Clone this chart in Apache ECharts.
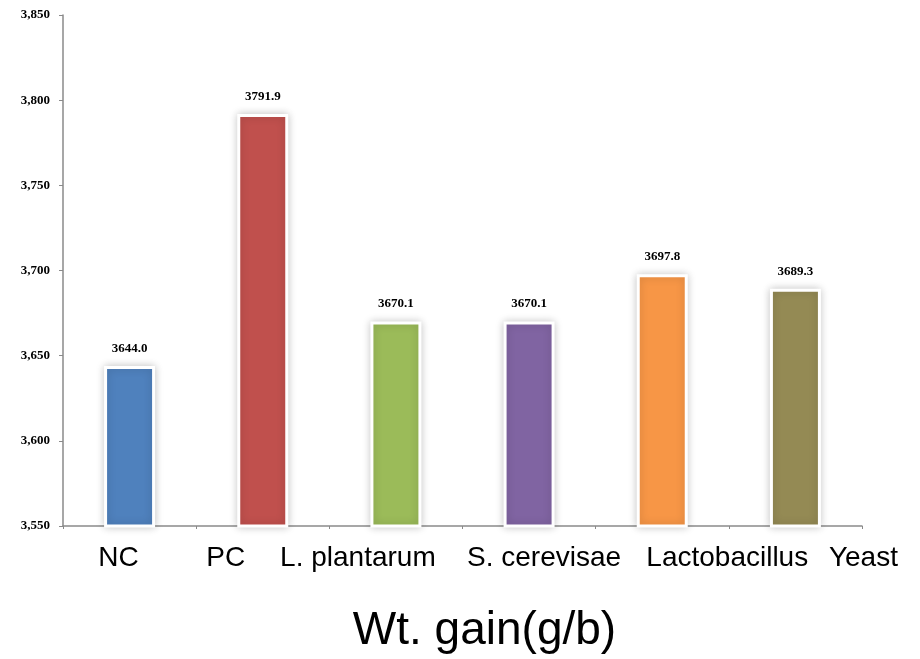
<!DOCTYPE html>
<html>
<head>
<meta charset="utf-8">
<script src="https://cdn.jsdelivr.net/npm/echarts@6/dist/echarts.min.js"></script>
<style>
  html, body { margin: 0; padding: 0; background: #fff; }
  #chart { width: 920px; height: 659px; }
</style>
</head>
<body>
<div id="chart"></div>
<script>
// Weight gain per treatment group
const categories = ['NC', 'PC', 'L. plantarum', 'S. cerevisae', 'Lactobacillus', 'Yeast'];
const weightGain = [3644.0, 3791.9, 3670.1, 3670.1, 3697.8, 3689.3];
const barColors = ['#4F81BD', '#C0504D', '#9BBB59', '#8064A2', '#F79646', '#948A54'];
const yTicks = [3550, 3600, 3650, 3700, 3750, 3800, 3850];
const axisTitle = 'Wt. gain(g/b)';

// horizontal nudge of each category label (px, + is right)
const labelShift = [-11, -37, -38, 15, 65, 68];

const rich = {};
labelShift.forEach((d, i) => {
  rich['c' + i] = {
    fontFamily: 'Liberation Sans, Arial, sans-serif',
    fontSize: 28,
    color: '#000',
    padding: d >= 0 ? [0, 0, 0, 2 * d] : [0, -2 * d, 0, 0]
  };
});

const chart = echarts.init(document.getElementById('chart'), null, { renderer: 'canvas' });

chart.setOption({
  animation: false,
  backgroundColor: '#ffffff',
  grid: { left: 63, right: 58, top: 15, bottom: 128 },
  xAxis: {
    type: 'category',
    data: categories,
    name: axisTitle,
    nameLocation: 'middle',
    nameGap: 82,
    nameTextStyle: {
      fontFamily: 'Liberation Sans, Arial, sans-serif',
      fontSize: 46,
      color: '#000',
      padding: [0, 0, 0, 44]
    },
    axisLine: { lineStyle: { color: '#8a8a8a', width: 1.5 } },
    axisTick: { show: true, length: 3, lineStyle: { color: '#8a8a8a' } },
    axisLabel: {
      interval: 0,
      margin: 18,
      formatter: (v, i) => '{c' + i + '|' + v + '}',
      rich: rich
    }
  },
  yAxis: {
    type: 'value',
    min: yTicks[0],
    max: yTicks[yTicks.length - 1],
    interval: 50,
    splitLine: { show: false },
    axisLine: { show: true, lineStyle: { color: '#8a8a8a', width: 1.5 } },
    axisTick: { show: true, length: 4, lineStyle: { color: '#8a8a8a' } },
    axisLabel: {
      margin: 13,
      fontFamily: 'Liberation Serif, Times New Roman, serif',
      fontWeight: 'bold',
      fontSize: 13,
      color: '#000',
      formatter: v => v.toLocaleString('en-US')
    }
  },
  series: [{
    type: 'bar',
    barWidth: 51,
    data: weightGain.map((v, i) => ({
      value: v,
      itemStyle: { color: barColors[i] }
    })),
    itemStyle: {
      borderColor: '#ffffff',
      borderWidth: 3,
      shadowColor: 'rgba(0,0,0,0.2)',
      shadowBlur: 8
    },
    label: {
      show: true,
      position: 'top',
      distance: 11,
      fontFamily: 'Liberation Serif, Times New Roman, serif',
      fontWeight: 'bold',
      fontSize: 13,
      color: '#000',
      formatter: p => p.value.toFixed(1)
    }
  }]
});
</script>
</body>
</html>
